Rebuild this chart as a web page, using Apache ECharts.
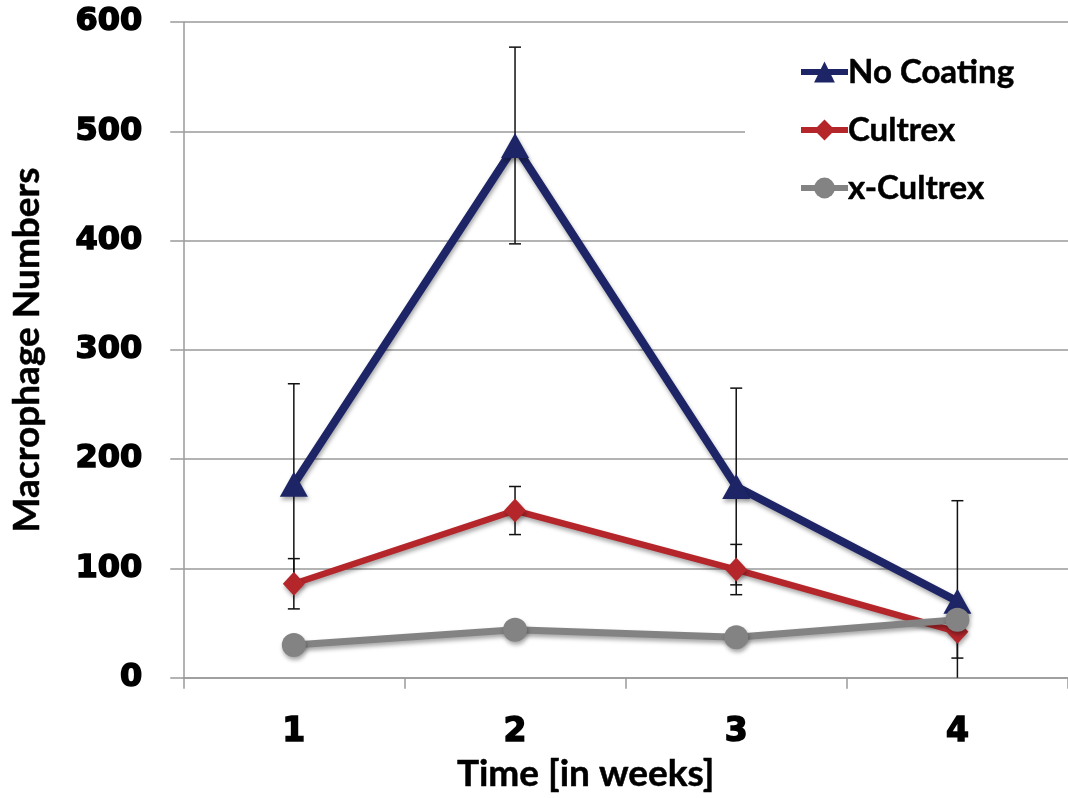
<!DOCTYPE html>
<html>
<head>
<meta charset="utf-8">
<script src="https://cdn.jsdelivr.net/npm/echarts@6/dist/echarts.min.js"></script>
<style>html,body{margin:0;padding:0;background:#fff;overflow:hidden}#c{width:1068px;height:798px}</style>
</head>
<body>
<div id="c"></div>
<script>
const categories = ['1', '2', '3', '4'];
const yTicks = [0, 100, 200, 300, 400, 500, 600];
const noCoating = [177, 487, 175, 70];
const noCoatingErr = [92, 90, 90, 92];
const cultrex = [86, 153, 99, 42];
const cultrexErr = [23, 22, 23, 24];
const xCultrex = [30, 44, 37, 53];

const BLUE = '#1d2566', RED = '#b5262b', GRAY = '#838383';
const titleFont = 'Lato';
const tickFont = 'DejaVu Sans';

function errData(vals, errs) {
  return vals.map((v, i) => [i, v - errs[i], v + errs[i]]);
}
function renderErr(params, api) {
  const i = api.value(0);
  const lo = api.value(1), hi = api.value(2);
  const top = api.coord([i, hi]);
  const clipped = lo < 0;
  const bot = api.coord([i, Math.max(0, lo)]);
  const cap = 6;
  const st = { stroke: '#111', lineWidth: 1.5 };
  const children = [
    { type: 'line', shape: { x1: top[0], y1: top[1], x2: bot[0], y2: bot[1] }, style: st },
    { type: 'line', shape: { x1: top[0] - cap, y1: top[1], x2: top[0] + cap, y2: top[1] }, style: st }
  ];
  if (!clipped) children.push({ type: 'line', shape: { x1: bot[0] - cap, y1: bot[1], x2: bot[0] + cap, y2: bot[1] }, style: st });
  return { type: 'group', children };
}
const shadow = { shadowColor: 'rgba(0,0,0,0.35)', shadowBlur: 4, shadowOffsetX: 1, shadowOffsetY: 3 };

const chart = echarts.init(document.getElementById('c'));
chart.setOption({
  animation: false,
  backgroundColor: '#fff',
  grid: { left: 183, right: -5, top: 22, bottom: 114, containLabel: false },
  legend: {
    orient: 'vertical', left: 745, top: 25,
    padding: [30, 60, 30, 53],
    backgroundColor: '#fff',
    itemGap: 24, itemWidth: 47, itemHeight: 26,
    textStyle: { fontFamily: titleFont, fontWeight: 'bold', fontSize: 33, lineHeight: 34, color: '#000', padding: [0, 0, 0, -5], textBorderColor: '#000', textBorderWidth: 0.5 },
    data: [
      { name: 'No Coating', lineStyle: { width: 6 } },
      { name: 'Cultrex', lineStyle: { width: 6 } },
      { name: 'x-Cultrex', lineStyle: { width: 6 } }
    ]
  },
  xAxis: {
    type: 'category', data: categories, boundaryGap: true,
    name: 'Time [in weeks]', nameLocation: 'middle', nameGap: 78,
    nameTextStyle: { fontFamily: titleFont, fontWeight: 'bold', fontSize: 37, color: '#000', padding: [0, 80, 0, 0], textBorderColor: '#000', textBorderWidth: 0.5 },
    axisLine: { lineStyle: { color: '#9a9a9a', width: 1.5 } },
    axisTick: { show: true, length: 11, lineStyle: { color: '#9a9a9a', width: 1.5 } },
    axisLabel: { fontFamily: tickFont, fontWeight: 'bold', fontSize: 33, color: '#000', margin: 38, textBorderColor: '#000', textBorderWidth: 1.5 }
  },
  yAxis: {
    type: 'value', min: yTicks[0], max: yTicks[yTicks.length - 1], interval: 100,
    name: 'Macrophage Numbers', nameLocation: 'middle', nameRotate: 90, nameGap: 138,
    nameTextStyle: { fontFamily: titleFont, fontWeight: 'bold', fontSize: 37, color: '#000', textBorderColor: '#000', textBorderWidth: 0.5 },
    axisLine: { show: true, lineStyle: { color: '#9a9a9a', width: 1.5 } },
    axisTick: { show: true, length: 13, lineStyle: { color: '#9a9a9a', width: 1.5 } },
    splitLine: { show: true, lineStyle: { color: '#9a9a9a', width: 1.5 } },
    axisLabel: { fontFamily: tickFont, fontWeight: 'bold', fontSize: 32, color: '#000', margin: 41, textBorderColor: '#000', textBorderWidth: 1.5 }
  },
  series: [
    { type: 'custom', name: 'errNo', renderItem: renderErr, data: errData(noCoating, noCoatingErr), z: 1, encode: { x: 0, y: [1, 2] }, silent: true },
    { type: 'custom', name: 'errCul', renderItem: renderErr, data: errData(cultrex, cultrexErr), z: 1, encode: { x: 0, y: [1, 2] }, silent: true },
    { type: 'line', name: 'No Coating', data: noCoating, z: 4, color: BLUE,
      symbol: 'triangle', symbolSize: [28, 25],
      lineStyle: Object.assign({ width: 8, color: BLUE }, shadow),
      itemStyle: Object.assign({ color: BLUE }, shadow) },
    { type: 'line', name: 'Cultrex', data: cultrex, z: 3, color: RED,
      symbol: 'diamond', symbolSize: [22, 24],
      lineStyle: Object.assign({ width: 6.5, color: RED }, shadow),
      itemStyle: Object.assign({ color: RED }, shadow) },
    { type: 'line', name: 'x-Cultrex', data: xCultrex, z: 5, color: GRAY,
      symbol: 'circle', symbolSize: 24,
      lineStyle: Object.assign({ width: 7, color: GRAY }, shadow),
      itemStyle: Object.assign({ color: GRAY }, shadow) }
  ]
});
</script>
</body>
</html>
